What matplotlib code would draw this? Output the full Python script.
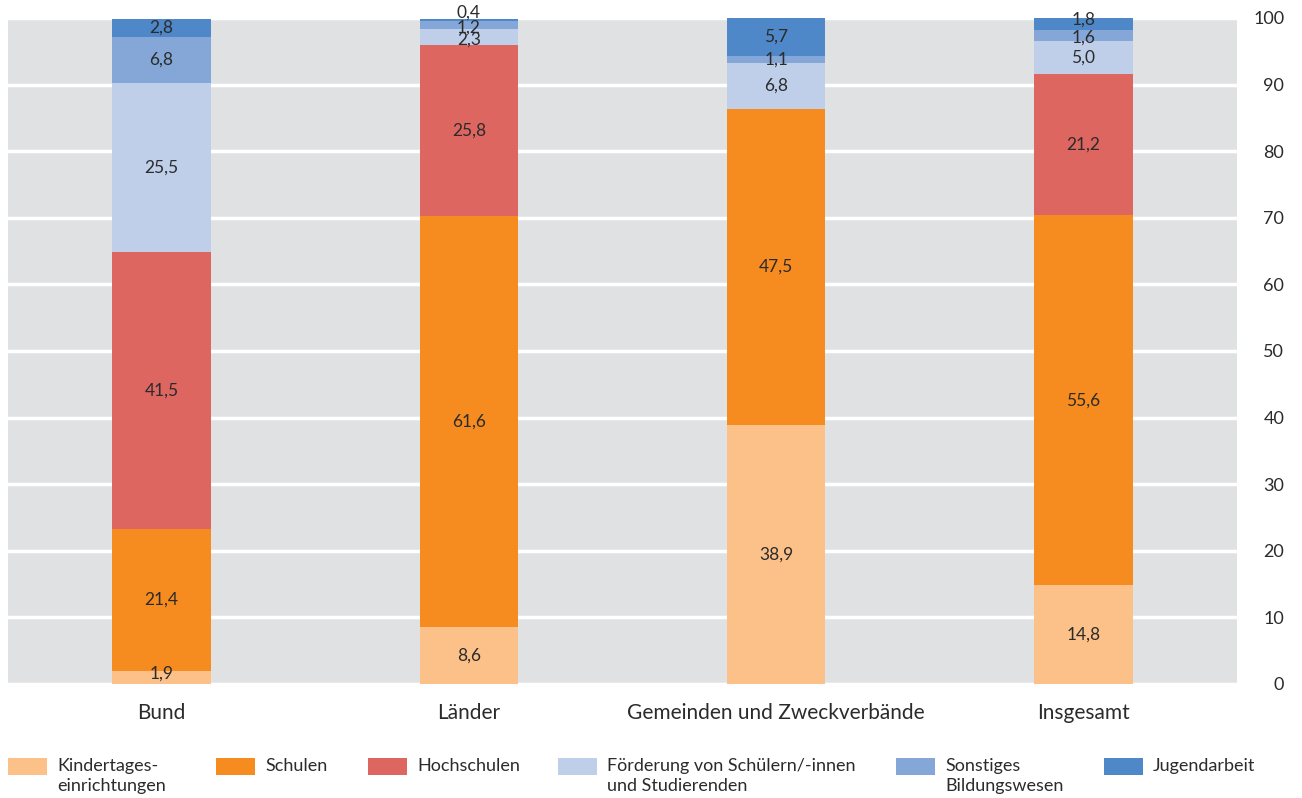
# Stacked shares of education spending by level of government (percent).

import matplotlib.pyplot as plt
from matplotlib.patches import Rectangle
import numpy as np

plt.rcParams['font.family'] = ['Lato', 'DejaVu Sans']

categories = ["Bund", "Länder", "Gemeinden und Zweckverbände", "Insgesamt"]
series_names = ["Kindertages-\neinrichtungen", "Schulen", "Hochschulen",
                "Förderung von Schülern/-innen\nund Studierenden",
                "Sonstiges\nBildungswesen", "Jugendarbeit"]
kita = [1.9, 8.6, 38.9, 14.8]
schulen = [21.4, 61.6, 47.5, 55.6]
hochschulen = [41.5, 25.8, 0.0, 21.2]
foerderung = [25.5, 2.3, 6.8, 5.0]
sonstiges = [6.8, 1.2, 1.1, 1.6]
jugendarbeit = [2.8, 0.4, 5.7, 1.8]
yticks = list(range(0, 101, 10))

colors = ["#fbc188", "#f68b20", "#dd6661", "#bfcfea", "#84a7d8", "#4f88c8"]
# small vertical nudges (points) so labels on thin segments don't collide
nudges = {(0, 0): 3, (5, 1): 5.5, (4, 1): -2, (3, 1): -2, (5, 3): 3, (4, 3): -2}

W, H = 1302, 798
fig = plt.figure(figsize=(W / 100, H / 100), dpi=100)
ax = fig.add_axes([8 / W, 1 - 684 / H, (1237 - 8) / W, (684 - 18) / H])
ax.set_facecolor("#e0e1e3")

x = np.arange(len(categories))
values = [kita, schulen, hochschulen, foerderung, sonstiges, jugendarbeit]
bottom = np.zeros(len(categories))
text_color = "#2b2b2b"
for i, vals in enumerate(values):
    vals = np.array(vals)
    bars = ax.bar(x, vals, 0.32, bottom=bottom, color=colors[i], zorder=3)
    for j, rect in enumerate(bars):
        if vals[j] == 0:
            continue
        cy = bottom[j] + vals[j] / 2
        ax.annotate(f"{vals[j]:.1f}".replace(".", ","), (x[j], cy),
                    xytext=(0, nudges.get((i, j), 0)), textcoords="offset points",
                    ha="center", va="center", fontsize=12.5, color=text_color, zorder=4)
    bottom += vals

ax.set_xlim(-0.5, 3.5)
ax.set_ylim(0, 100)
ax.set_yticks(yticks)
ax.yaxis.tick_right()
ax.tick_params(axis="y", length=0, pad=34, labelsize=13, labelcolor=text_color)
for lab in ax.get_yticklabels():
    lab.set_horizontalalignment("right")
ax.set_xticks(x)
ax.set_xticklabels(categories)
ax.tick_params(axis="x", length=0, pad=14, labelsize=15, labelcolor=text_color)
ax.grid(axis="y", color="white", linewidth=2.5, zorder=1)
ax.set_axisbelow(True)
for sp in ax.spines.values():
    sp.set_visible(False)

# legend drawn by hand: patch aligned with first text line
leg_x = [8, 216, 368, 558, 896, 1104]
for px, name, c in zip(leg_x, series_names, colors):
    fig.add_artist(Rectangle((px / W, 1 - 775 / H), 39 / W, 17 / H,
                             transform=fig.transFigure, facecolor=c, edgecolor="none"))
    fig.text((px + 49) / W, 1 - 758 / H, name, ha="left", va="top",
             fontsize=13, color=text_color, linespacing=1.27)

fig.savefig("out.png", dpi=100)
